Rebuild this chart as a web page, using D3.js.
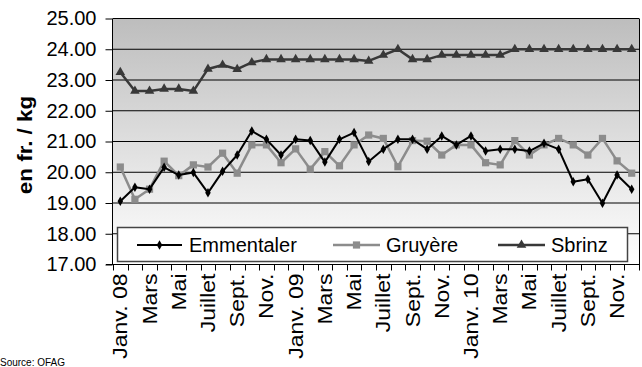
<!DOCTYPE html>
<html>
<head>
<meta charset="utf-8">
<script src="https://cdn.jsdelivr.net/npm/d3@7/dist/d3.min.js"></script>
<style>
  html, body { margin: 0; padding: 0; background: #fff; }
  svg { display: block; font-family: "Liberation Sans", Arial, sans-serif; }
</style>
</head>
<body>
<svg id="chart" width="642" height="367"></svg>
<script>
// Monthly cheese prices (CHF per kg), January 2008 – December 2010
const months = [
  "Janv. 08","Févr.","Mars","Avr.","Mai","Juin","Juillet","Août","Sept.","Oct.","Nov.","Déc.",
  "Janv. 09","Févr.","Mars","Avr.","Mai","Juin","Juillet","Août","Sept.","Oct.","Nov.","Déc.",
  "Janv. 10","Févr.","Mars","Avr.","Mai","Juin","Juillet","Août","Sept.","Oct.","Nov.","Déc."
];
const categories = months.map((m, i) => i);

const emmentaler = [19.06,19.51,19.45,20.16,19.91,19.99,19.33,20.03,20.56,21.34,21.07,20.56,
                    21.07,21.03,20.33,21.07,21.29,20.35,20.75,21.07,21.07,20.75,21.18,20.89,
                    21.18,20.69,20.75,20.75,20.69,20.94,20.75,19.69,19.77,18.99,19.91,19.45];
const gruyere    = [20.17,19.12,19.45,20.36,19.89,20.24,20.17,20.62,19.97,20.89,20.89,20.31,
                    20.76,20.10,20.67,20.21,20.89,21.21,21.10,20.18,21.03,21.01,20.56,20.89,
                    20.89,20.31,20.24,21.03,20.56,20.89,21.10,20.89,20.56,21.10,20.37,19.97];
const sbrinz     = [23.25,22.64,22.64,22.71,22.71,22.64,23.36,23.49,23.35,23.57,23.67,23.67,
                    23.67,23.67,23.67,23.67,23.67,23.62,23.81,24.00,23.67,23.67,23.81,23.81,
                    23.81,23.81,23.81,24.00,24.00,24.00,24.00,24.00,24.00,24.00,24.00,24.00];

const seriesNames = ["Emmentaler", "Gruyère", "Sbrinz"];
const yTicks = [17, 18, 19, 20, 21, 22, 23, 24, 25];
const yTitle = "en fr. / kg";
const sourceNote = "Source: OFAG";

const series = [
  { name: seriesNames[0], values: emmentaler, color: "#000000", symbol: d3.symbolDiamond, size: 26, width: 2 },
  { name: seriesNames[1], values: gruyere,    color: "#8c8c8c", symbol: d3.symbolSquare,  size: 52, width: 2.5 },
  { name: seriesNames[2], values: sbrinz,     color: "#383838", symbol: d3.symbolTriangle, size: 40, width: 2.5 }
];

const svg = d3.select("#chart");
const plot = { left: 113, right: 639, top: 18.5, bottom: 264.5 };

const x = d3.scaleBand().domain(categories).range([plot.left, plot.right]).paddingInner(0).paddingOuter(0);
const y = d3.scaleLinear().domain([17, 25]).range([plot.bottom, plot.top]);
const cx = i => x(i) + x.bandwidth() / 2;

// plot background gradient
const defs = svg.append("defs");
const grad = defs.append("linearGradient").attr("id", "bg").attr("x1", 0).attr("y1", 0).attr("x2", 0).attr("y2", 1);
grad.append("stop").attr("offset", "0%").attr("stop-color", "#bdbdbd");
grad.append("stop").attr("offset", "100%").attr("stop-color", "#ffffff");

svg.append("rect")
  .attr("x", plot.left).attr("y", plot.top)
  .attr("width", plot.right - plot.left).attr("height", plot.bottom - plot.top)
  .attr("fill", "url(#bg)");

// horizontal gridlines
svg.append("g").selectAll("line").data(yTicks.filter(t => t > 17)).join("line")
  .attr("x1", plot.left).attr("x2", plot.right)
  .attr("y1", d => y(d)).attr("y2", d => y(d))
  .attr("stroke", "#000").attr("stroke-width", 1);

// right border
svg.append("line")
  .attr("x1", plot.right + 0.5).attr("x2", plot.right + 0.5)
  .attr("y1", plot.top).attr("y2", plot.bottom)
  .attr("stroke", "#000").attr("stroke-width", 1);

// y axis
const yAxis = svg.append("g")
  .attr("transform", `translate(${plot.left - 0.5},0)`)
  .call(d3.axisLeft(y).tickValues(yTicks).tickFormat(d3.format(".2f")).tickSize(7).tickPadding(9));
yAxis.select(".domain").attr("stroke", "#000").attr("d", `M0,${plot.top}V${plot.bottom}`);
yAxis.selectAll(".tick line").attr("stroke", "#000");
yAxis.selectAll(".tick text").attr("font-size", 20).attr("fill", "#000")
  .attr("font-family", "Liberation Sans, Arial, sans-serif");

// x axis: band boundary ticks and every second month label
const xAxis = svg.append("g").attr("transform", `translate(0,${plot.bottom})`);
xAxis.append("line")
  .attr("x1", plot.left - 7).attr("x2", plot.right + 1)
  .attr("y1", 0).attr("y2", 0)
  .attr("stroke", "#000");
const boundaries = categories.map(i => x(i)).concat([plot.right]);
xAxis.selectAll("line.tk").data(boundaries).join("line").attr("class", "tk")
  .attr("x1", d => Math.round(d) + 0.5).attr("x2", d => Math.round(d) + 0.5)
  .attr("y1", 0).attr("y2", 6)
  .attr("stroke", "#000");
xAxis.selectAll("text").data(categories.filter(i => i % 2 === 0)).join("text")
  .attr("transform", d => `translate(${cx(d) + 7},9) rotate(-90) scale(1.15,1)`)
  .attr("text-anchor", "end")
  .attr("font-size", 20)
  .attr("fill", "#000")
  .text(d => months[d]);

// series lines and markers
series.slice().reverse().forEach(s => {
  const line = d3.line().x((d, i) => cx(i)).y(d => y(d));
  svg.append("path").datum(s.values)
    .attr("d", line).attr("fill", "none")
    .attr("stroke", s.color).attr("stroke-width", s.width).attr("stroke-linejoin", "round");
  svg.append("g").selectAll("path").data(s.values).join("path")
    .attr("transform", (d, i) => `translate(${cx(i)},${y(d)})`)
    .attr("d", d3.symbol().type(s.symbol).size(s.size))
    .attr("fill", s.color);
});

// legend
const legend = svg.append("g");
legend.append("rect")
  .attr("x", 117.5).attr("y", 227.5).attr("width", 510).attr("height", 34)
  .attr("fill", "#fff").attr("stroke", "#444").attr("stroke-width", 1.5);
const legendPos = [{ x0: 137, x1: 182, tx: 189 }, { x0: 333, x1: 380, tx: 386 }, { x0: 498, x1: 545, tx: 551 }];
series.forEach((s, k) => {
  const p = legendPos[k];
  const ly = 245;
  legend.append("line")
    .attr("x1", p.x0).attr("x2", p.x1).attr("y1", ly).attr("y2", ly)
    .attr("stroke", s.color).attr("stroke-width", s.width);
  legend.append("path")
    .attr("transform", `translate(${(p.x0 + p.x1) / 2},${ly})`)
    .attr("d", d3.symbol().type(s.symbol).size(s.size))
    .attr("fill", s.color);
  legend.append("text")
    .attr("x", p.tx).attr("y", ly + 7)
    .attr("font-size", 20).attr("fill", "#000")
    .text(s.name);
});

// y axis title
svg.append("text")
  .attr("transform", "translate(32,145) rotate(-90) scale(1.12,1)")
  .attr("text-anchor", "middle")
  .attr("font-size", 20).attr("font-weight", "bold")
  .attr("fill", "#000")
  .text(yTitle);

// source note
svg.append("text")
  .attr("x", 0).attr("y", 366)
  .attr("font-size", 10).attr("fill", "#000")
  .text(sourceNote);
</script>
</body>
</html>
